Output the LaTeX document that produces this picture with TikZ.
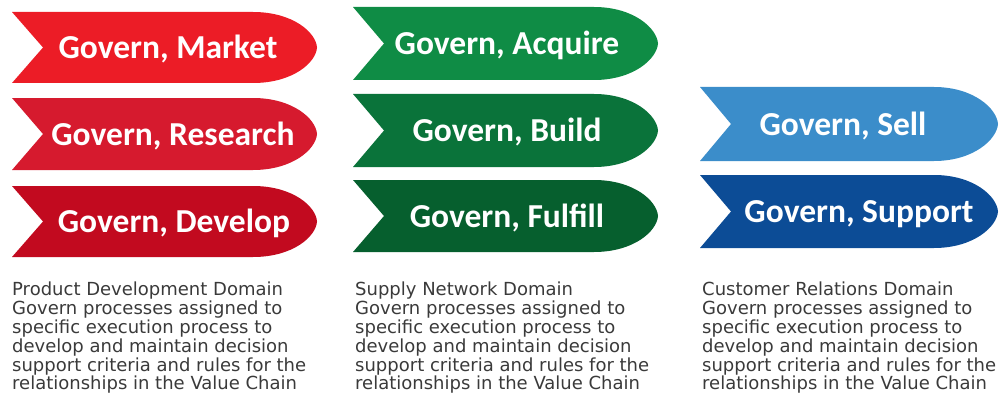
\documentclass[tikz,border=0pt]{standalone}
\usepackage{fontspec}
\setmainfont{DejaVu Sans}
\newfontfamily\bannerfont{Carlito}

\definecolor{redA}{HTML}{EC1C26}
\definecolor{redB}{HTML}{D61A2E}
\definecolor{redC}{HTML}{C20A1F}
\definecolor{greenA}{HTML}{0F8C45}
\definecolor{greenB}{HTML}{0A733A}
\definecolor{greenC}{HTML}{065F2E}
\definecolor{blueA}{HTML}{3B8DCA}
\definecolor{blueB}{HTML}{0C4C96}
\definecolor{domaingray}{HTML}{3A3A3A}

\tikzset{
  bannertext/.style={text=white, inner sep=0pt, anchor=base,
    font=\bannerfont\bfseries\fontsize{33.5}{33.5}\selectfont},
  domaintext/.style={text=domaingray, inner sep=0pt, anchor=north west, align=left,
    font=\fontsize{18}{18.8}\selectfont},
}

\begin{document}
\begin{tikzpicture}[x=1pt,y=-1pt]
	\useasboundingbox (0,0) rectangle (999,404);
	%\draw[help lines, gray!30] (0,0) grid[step=50] (999,404);

	% banners: name/left/top/bottom/tip/text centre/colour/label
	\foreach \nm/\lx/\ty/\by/\tx/\cx/\col/\lbl in {
		market/12/12/83/317/168/redA/{Govern, Market},
		research/12/98/170/317/173/redB/{Govern, Research},
		develop/12/186/257/317/174/redC/{Govern, Develop},
		acquire/353/7/80/658/507/greenA/{Govern, Acquire},
		build/353/94/167/658/507/greenB/{Govern, Build},
		fulfill/353/180/252/658/507/greenC/{Govern, Fulfill},
		sell/700/87/161/998/843/blueA/{Govern, Sell},
		support/700/175/248/998/859/blueB/{Govern, Support}}
	{
		\pgfmathsetmacro{\my}{(\ty+\by)/2}
		\pgfmathsetmacro{\nx}{\lx+31}
		\pgfmathsetmacro{\sx}{\tx-64}
		\fill[\col] (\lx,\ty) -- (\sx,\ty) .. controls (\sx+40,\ty) and (\tx-1,\my-15) .. (\tx,\my)
			.. controls (\tx-1,\my+15) and (\sx+40,\by) .. (\sx,\by) -- (\lx,\by) -- (\nx,\my) -- cycle;
		\node[bannertext] (\nm) at (\cx,\my+11) {\lbl};
	}

	% domain descriptions
	\node[domaintext] (productdomain) at (12,282) {Product Development Domain\\Govern processes assigned to\\specific execution process to\\develop and maintain decision\\support criteria and rules for the\\relationships in the Value Chain};
	\node[domaintext] (supplydomain) at (355,282) {Supply Network Domain\\Govern processes assigned to\\specific execution process to\\develop and maintain decision\\support criteria and rules for the\\relationships in the Value Chain};
	\node[domaintext] (customerdomain) at (702,282) {Customer Relations Domain\\Govern processes assigned to\\specific execution process to\\develop and maintain decision\\support criteria and rules for the\\relationships in the Value Chain};

\end{tikzpicture}
\end{document}
